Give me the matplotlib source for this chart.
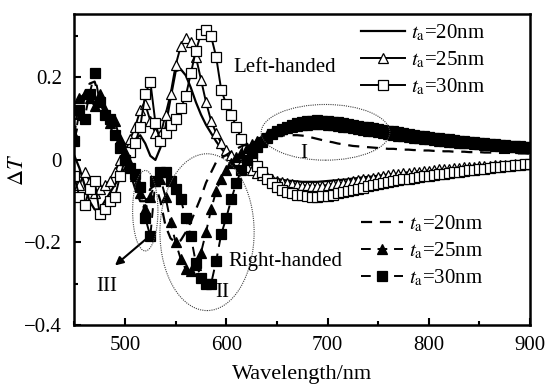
import numpy as np
import matplotlib
matplotlib.use('Agg')
import matplotlib.pyplot as plt
from matplotlib.patches import Ellipse

plt.rcParams['font.family'] = ['Liberation Serif', 'DejaVu Serif']
plt.rcParams['mathtext.fontset'] = 'stix'

# wavelength samples, nm (one value every 5 nm, 450..900)
wavelength = np.arange(450, 901, 5)

# left-handed, solid lines
left_20 = [0.01, -0.02, -0.06, -0.10, -0.12, -0.12, -0.10, -0.08, -0.06, -0.04,
           -0.02, 0.01, 0.05, 0.06, 0.04, 0.01, 0.00, 0.03, 0.08, 0.15,
           0.215, 0.22, 0.205, 0.175, 0.14, 0.11, 0.085, 0.065, 0.045, 0.028,
           0.014, 0.002, -0.008, -0.016, -0.023, -0.029, -0.034, -0.038, -0.041, -0.044,
           -0.046, -0.048, -0.050, -0.051, -0.052, -0.053, -0.053, -0.053, -0.053, -0.052,
           -0.051, -0.050, -0.049, -0.048, -0.047, -0.045, -0.044, -0.042, -0.041, -0.040,
           -0.038, -0.037, -0.035, -0.034, -0.033, -0.031, -0.030, -0.029, -0.028, -0.027,
           -0.026, -0.025, -0.024, -0.023, -0.022, -0.021, -0.020, -0.019, -0.018, -0.018,
           -0.017, -0.016, -0.015, -0.015, -0.014, -0.013, -0.013, -0.012, -0.012, -0.011,
           -0.010]
left_25 = [-0.04, -0.06, -0.03, -0.05, -0.08, -0.07, -0.06, -0.05, -0.03, 0.00,
           0.02, 0.05, 0.08, 0.12, 0.135, 0.095, 0.065, 0.06, 0.11, 0.16,
           0.23, 0.275, 0.295, 0.285, 0.25, 0.195, 0.14, 0.095, 0.065, 0.04,
           0.025, 0.012, 0.000, -0.010, -0.018, -0.025, -0.031, -0.037, -0.042, -0.047,
           -0.051, -0.054, -0.057, -0.059, -0.061, -0.062, -0.063, -0.063, -0.063, -0.062,
           -0.061, -0.059, -0.057, -0.055, -0.053, -0.051, -0.049, -0.047, -0.045, -0.043,
           -0.041, -0.039, -0.037, -0.035, -0.034, -0.032, -0.031, -0.029, -0.028, -0.027,
           -0.026, -0.024, -0.023, -0.022, -0.021, -0.020, -0.019, -0.018, -0.017, -0.016,
           -0.015, -0.015, -0.014, -0.013, -0.012, -0.012, -0.011, -0.010, -0.010, -0.009,
           -0.009]
left_30 = [-0.04, -0.09, -0.11, -0.07, -0.05, -0.13, -0.12, -0.10, -0.09, -0.04,
           0.00, 0.02, 0.04, 0.08, 0.16, 0.19, 0.09, 0.045, 0.065, 0.085,
           0.10, 0.125, 0.155, 0.21, 0.265, 0.305, 0.315, 0.30, 0.25, 0.17,
           0.135, 0.11, 0.08, 0.05, 0.025, 0.005, -0.015, -0.03, -0.045, -0.057,
           -0.066, -0.072, -0.077, -0.081, -0.084, -0.086, -0.088, -0.089, -0.089, -0.088,
           -0.087, -0.084, -0.081, -0.078, -0.075, -0.072, -0.070, -0.067, -0.064, -0.061,
           -0.058, -0.056, -0.053, -0.051, -0.049, -0.047, -0.045, -0.043, -0.041, -0.039,
           -0.038, -0.036, -0.034, -0.033, -0.031, -0.030, -0.028, -0.027, -0.025, -0.024,
           -0.022, -0.021, -0.019, -0.018, -0.016, -0.015, -0.014, -0.012, -0.011, -0.010,
           -0.009]

# right-handed, dashed lines
right_20 = [0.05, 0.10, 0.15, 0.185, 0.19, 0.15, 0.11, 0.08, 0.06, 0.03,
            0.00, -0.03, -0.07, -0.10, -0.10, -0.07, -0.06, -0.10, -0.16, -0.19,
            -0.20, -0.195, -0.175, -0.15, -0.12, -0.09, -0.055, -0.03, -0.005, 0.005,
            0.012, 0.02, 0.027, 0.033, 0.038, 0.043, 0.047, 0.051, 0.054, 0.056,
            0.058, 0.059, 0.060, 0.060, 0.060, 0.059, 0.057, 0.054, 0.051, 0.048,
            0.045, 0.043, 0.040, 0.038, 0.036, 0.034, 0.033, 0.032, 0.031, 0.030,
            0.029, 0.028, 0.027, 0.027, 0.026, 0.025, 0.025, 0.024, 0.024, 0.023,
            0.023, 0.022, 0.022, 0.021, 0.021, 0.020, 0.020, 0.020, 0.019, 0.019,
            0.019, 0.018, 0.018, 0.018, 0.017, 0.017, 0.017, 0.016, 0.016, 0.016,
            0.015]
right_25 = [0.06, 0.15, 0.16, 0.15, 0.13, 0.16, 0.12, 0.09, 0.095, 0.05,
            0.02, -0.01, -0.04, -0.08, -0.12, -0.09, -0.05, -0.045, -0.09, -0.15,
            -0.20, -0.24, -0.265, -0.27, -0.255, -0.225, -0.175, -0.12, -0.075, -0.045,
            -0.025, -0.008, 0.006, 0.018, 0.029, 0.039, 0.047, 0.054, 0.060, 0.065,
            0.070, 0.074, 0.077, 0.080, 0.082, 0.084, 0.085, 0.086, 0.086, 0.086,
            0.085, 0.084, 0.082, 0.081, 0.079, 0.077, 0.075, 0.073, 0.071, 0.069,
            0.067, 0.065, 0.063, 0.061, 0.059, 0.058, 0.056, 0.054, 0.053, 0.051,
            0.050, 0.048, 0.047, 0.046, 0.044, 0.043, 0.042, 0.041, 0.040, 0.039,
            0.038, 0.037, 0.036, 0.035, 0.034, 0.033, 0.032, 0.031, 0.030, 0.030,
            0.029]
right_30 = [0.045, 0.12, 0.10, 0.16, 0.21, 0.14, 0.11, 0.10, 0.06, 0.03,
            0.00, -0.02, -0.035, -0.065, -0.14, -0.185, -0.05, -0.03, -0.03, -0.05,
            -0.07, -0.095, -0.14, -0.185, -0.25, -0.285, -0.30, -0.30, -0.245, -0.18,
            -0.14, -0.095, -0.055, -0.025, 0.00, 0.018, 0.032, 0.044, 0.054, 0.063,
            0.070, 0.076, 0.081, 0.085, 0.089, 0.092, 0.094, 0.095, 0.096, 0.095,
            0.094, 0.093, 0.091, 0.089, 0.087, 0.085, 0.083, 0.081, 0.079, 0.077,
            0.075, 0.073, 0.071, 0.069, 0.067, 0.065, 0.063, 0.061, 0.059, 0.058,
            0.056, 0.054, 0.053, 0.051, 0.050, 0.048, 0.047, 0.045, 0.044, 0.043,
            0.042, 0.040, 0.039, 0.038, 0.037, 0.036, 0.035, 0.034, 0.033, 0.032,
            0.031]

labels = [r'$t_{\rm a}$=20nm', r'$t_{\rm a}$=25nm', r'$t_{\rm a}$=30nm']

fig = plt.figure(figsize=(5.47, 3.86), dpi=100)
ax = fig.add_axes([0.136, 0.158, 0.833, 0.806])

dash = (0, (5, 3.5))
mk = dict(ms=6.5, mec='k', mew=0.9)

l1, = ax.plot(wavelength, left_20, color='k', lw=1.6)
l2, = ax.plot(wavelength, left_25, color='k', lw=1.4, marker='^', mfc='white', **mk)
l3, = ax.plot(wavelength, left_30, color='k', lw=1.4, marker='s', mfc='white', **mk)
r1, = ax.plot(wavelength, right_20, color='k', lw=1.6, ls=dash)
r2, = ax.plot(wavelength, right_25, color='k', lw=1.4, ls=dash, marker='^', mfc='k', **mk)
r3, = ax.plot(wavelength, right_30, color='k', lw=1.4, ls=dash, marker='s', mfc='k', **mk)

leg1 = ax.legend([l1, l2, l3], labels, loc='upper left', bbox_to_anchor=(0.63, 0.972),
                 frameon=False, fontsize=15, handlelength=2.1, handletextpad=0.3,
                 labelspacing=0.3, borderpad=0, borderaxespad=0)
ax.add_artist(leg1)
ax.legend([r1, r2, r3], labels, loc='upper left', bbox_to_anchor=(0.63, 0.358),
          frameon=False, fontsize=15, handlelength=2.0, handletextpad=0.3,
          labelspacing=0.3, borderpad=0, borderaxespad=0)

# dotted ellipses marking regions I, II, III
for (cx, cy, w, h) in [(698, 0.067, 127, 0.135), (581, -0.175, 93, 0.38), (520, -0.123, 25, 0.195)]:
    ax.add_patch(Ellipse((cx, cy), w, h, fill=False, ls=(0, (1, 1)), lw=0.8, color='0.25', zorder=5))

ax.text(658, 0.225, 'Left-handed', fontsize=15, ha='center', va='center')
ax.text(602, -0.245, 'Right-handed', fontsize=15, ha='left', va='center')
ax.text(677, 0.016, 'I', fontsize=15, ha='center', va='center')
ax.text(596, -0.32, 'II', fontsize=15, ha='center', va='center')
ax.text(482, -0.307, 'III', fontsize=15, ha='center', va='center')
ax.annotate('', xy=(488, -0.26), xytext=(524, -0.185),
            arrowprops=dict(arrowstyle='-|>', color='k', lw=1.5, mutation_scale=12))

ax.set_xlim(450, 900)
ax.set_ylim(-0.4, 0.354)
ax.set_xticks([500, 600, 700, 800, 900])
ax.set_xticks(np.arange(450, 901, 50), minor=True)
ax.set_yticks([-0.4, -0.2, 0, 0.2])
ax.set_yticklabels(['\u22120.4', '\u22120.2', '0', '0.2'])
ax.set_yticks([-0.3, -0.1, 0.1, 0.3], minor=True)
ax.tick_params(which='both', direction='in', labelsize=15, width=1.5)
ax.tick_params(which='major', length=5)
ax.tick_params(which='minor', length=3)
ax.tick_params(axis='x', which='major', pad=8)
ax.tick_params(axis='y', which='major', pad=9)
for s in ax.spines.values():
    s.set_linewidth(1.8)

ax.set_xlabel('Wavelength/nm', fontsize=16, labelpad=7)
ax.set_ylabel(r'$\Delta T$', fontsize=16)
ax.yaxis.set_label_coords(-0.102, 0.5)

fig.savefig('out.png', dpi=100)
